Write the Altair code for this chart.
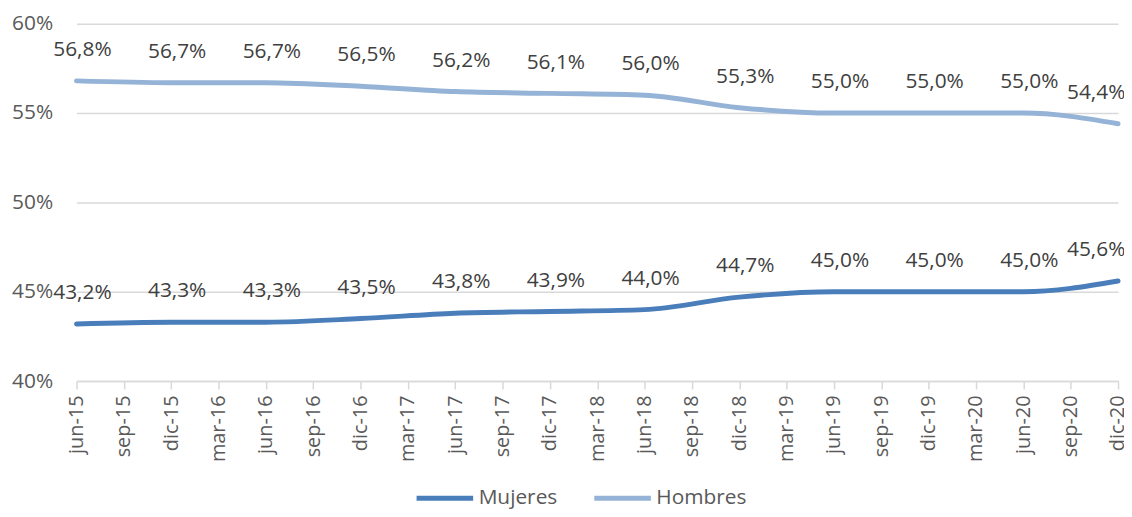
import altair as alt
import pandas as pd

periods = ["jun-15", "sep-15", "dic-15", "mar-16", "jun-16", "sep-16", "dic-16", "mar-17",
           "jun-17", "sep-17", "dic-17", "mar-18", "jun-18", "sep-18", "dic-18", "mar-19",
           "jun-19", "sep-19", "dic-19", "mar-20", "jun-20", "sep-20", "dic-20"]
data_periods = ["jun-15", "dic-15", "jun-16", "dic-16", "jun-17", "dic-17",
                "jun-18", "dic-18", "jun-19", "dic-19", "jun-20", "dic-20"]
mujeres = [43.2, 43.3, 43.3, 43.5, 43.8, 43.9, 44.0, 44.7, 45.0, 45.0, 45.0, 45.6]
hombres = [56.8, 56.7, 56.7, 56.5, 56.2, 56.1, 56.0, 55.3, 55.0, 55.0, 55.0, 54.4]
series = ["Mujeres", "Hombres"]
colors = ["#4A7EBB", "#95B3D7"]

rows = []
for p, m, h in zip(data_periods, mujeres, hombres):
    rows.append({"periodo": p, "serie": "Mujeres", "valor": m})
    rows.append({"periodo": p, "serie": "Hombres", "valor": h})
df = pd.DataFrame(rows)

FONT = "Open Sans"

x = alt.X("periodo:O", sort=periods,
          scale=alt.Scale(type="point", domain=periods, padding=0),
          axis=alt.Axis(title=None, labelAngle=270, labelFontSize=20, labelColor="#595959",
                        labelFont=FONT, domainColor="#D9D9D9", tickColor="#D9D9D9",
                        tickSize=8, labelPadding=6, grid=False, domainWidth=1.5, tickWidth=1.5))
y = alt.Y("valor:Q", scale=alt.Scale(domain=[40, 60]),
          axis=alt.Axis(title=None, values=[40, 45, 50, 55, 60], labelExpr="datum.value + '%'",
                        labelFontSize=21, labelColor="#595959", labelFont=FONT,
                        domain=False, ticks=False, gridColor="#D9D9D9", gridWidth=1.5,
                        labelPadding=24))
color = alt.Color("serie:N", scale=alt.Scale(domain=series, range=colors),
                  legend=alt.Legend(title=None, orient="none", direction="horizontal",
                                    legendX=340, legendY=447, symbolType="stroke",
                                    symbolSize=3249, symbolStrokeWidth=5, labelFontSize=21,
                                    labelFont=FONT, labelColor="#595959", labelOffset=3,
                                    columnPadding=26))

base = alt.Chart(df)
lines = base.mark_line(strokeWidth=5, interpolate="monotone", strokeCap="round").encode(
    x=x, y=y, color=color)

label_calc = "replace(format(datum.valor, '.1f'), '.', ',') + '%'"
texts = base.transform_filter(alt.datum.periodo != "dic-20").transform_calculate(
    lbl=label_calc).mark_text(dy=-31, dx=6, fontSize=21, font=FONT, color="#404040").encode(
    x=x, y=y, text="lbl:N")
texts_last = base.transform_filter(alt.datum.periodo == "dic-20").transform_calculate(
    lbl=label_calc).mark_text(dy=-31, dx=-22, fontSize=21, font=FONT, color="#404040").encode(
    x=x, y=y, text="lbl:N")

chart = alt.layer(lines, texts, texts_last).properties(
    width=1049, height=360,
    autosize=alt.AutoSizeParams(type="none"),
    padding={"left": 69, "top": 14, "right": 6, "bottom": 127},
).configure_view(stroke=None)

chart.save("out.html", embed_options={"renderer": "svg", "actions": False})
